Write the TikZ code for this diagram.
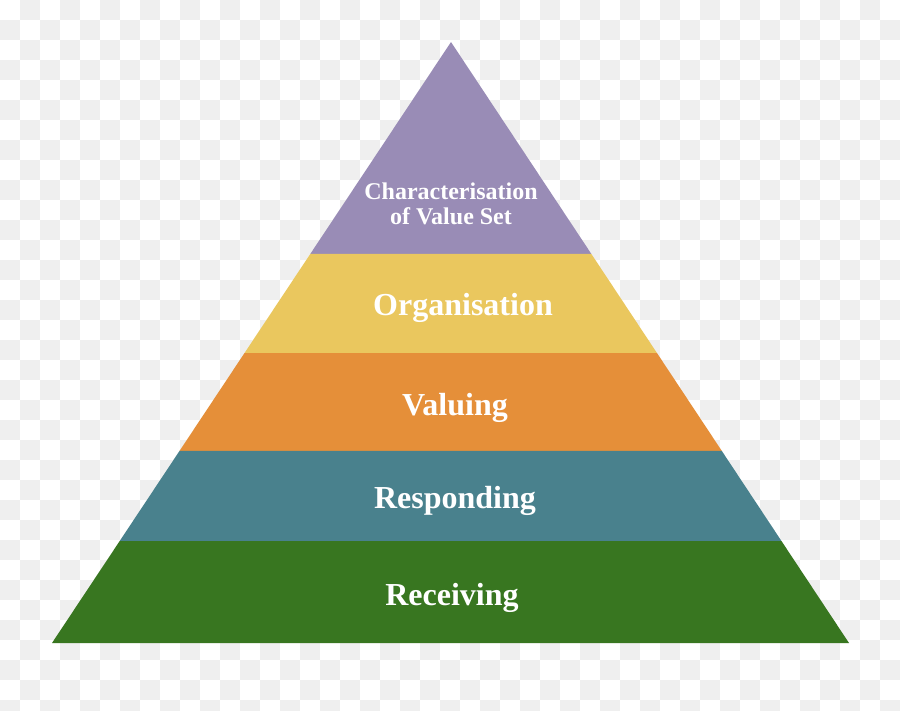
\documentclass[tikz,border=0pt]{standalone}
\usepackage{fontspec}
\setmainfont{Liberation Serif}
\usetikzlibrary{calc}
\definecolor{chk}{HTML}{EFEFEF}
\definecolor{lpurple}{HTML}{998CB6}
\definecolor{lyellow}{HTML}{EAC75E}
\definecolor{lorange}{HTML}{E58F39}
\definecolor{lteal}{HTML}{49818D}
\definecolor{lgreen}{HTML}{387620}
\tikzset{
  lbl/.style={text=white, font=\bfseries\fontsize{32}{38}\selectfont, inner sep=0pt, anchor=base},
  toplbl/.style={text=white, font=\bfseries\fontsize{24}{25}\selectfont, inner sep=0pt, align=center, anchor=center}
}
\begin{document}
\begin{tikzpicture}[x=1pt,y=-1pt]
\useasboundingbox (0,0) rectangle (900,710);
\fill[white] (0,0) rectangle (900,710);
\foreach \i in {0,...,44}{
  \foreach \j in {0,...,35}{
    \pgfmathtruncatemacro{\p}{mod(\i+\j,2)}
    \ifnum\p=1 \fill[chk] (\i*20,\j*20) rectangle ++(20,20); \fi
  }
}
\coordinate (apex) at (451,42);
\coordinate (bl) at (52,643);
\coordinate (br) at (849,643);
\coordinate (l1) at ($(apex)!0.3527!(bl)$);
\coordinate (r1) at ($(apex)!0.3527!(br)$);
\coordinate (l2) at ($(apex)!0.5175!(bl)$);
\coordinate (r2) at ($(apex)!0.5175!(br)$);
\coordinate (l3) at ($(apex)!0.6805!(bl)$);
\coordinate (r3) at ($(apex)!0.6805!(br)$);
\coordinate (l4) at ($(apex)!0.8303!(bl)$);
\coordinate (r4) at ($(apex)!0.8303!(br)$);
\fill[lpurple] (apex) -- (r1) -- (l1) -- cycle;
\fill[lyellow] (l1) -- (r1) -- (r2) -- (l2) -- cycle;
\fill[lorange] (l2) -- (r2) -- (r3) -- (l3) -- cycle;
\fill[lteal] (l3) -- (r3) -- (r4) -- (l4) -- cycle;
\fill[lgreen] (l4) -- (r4) -- (br) -- (bl) -- cycle;
\node[toplbl] (t1) at (451,204) {Characterisation\\of Value Set};
\node[lbl] (t2) at (463,315) {Organisation};
\node[lbl] (t3) at (455,415) {Valuing};
\node[lbl] (t4) at (455,508) {Responding};
\node[lbl] (t5) at (452,605) {Receiving};
\end{tikzpicture}
\end{document}
